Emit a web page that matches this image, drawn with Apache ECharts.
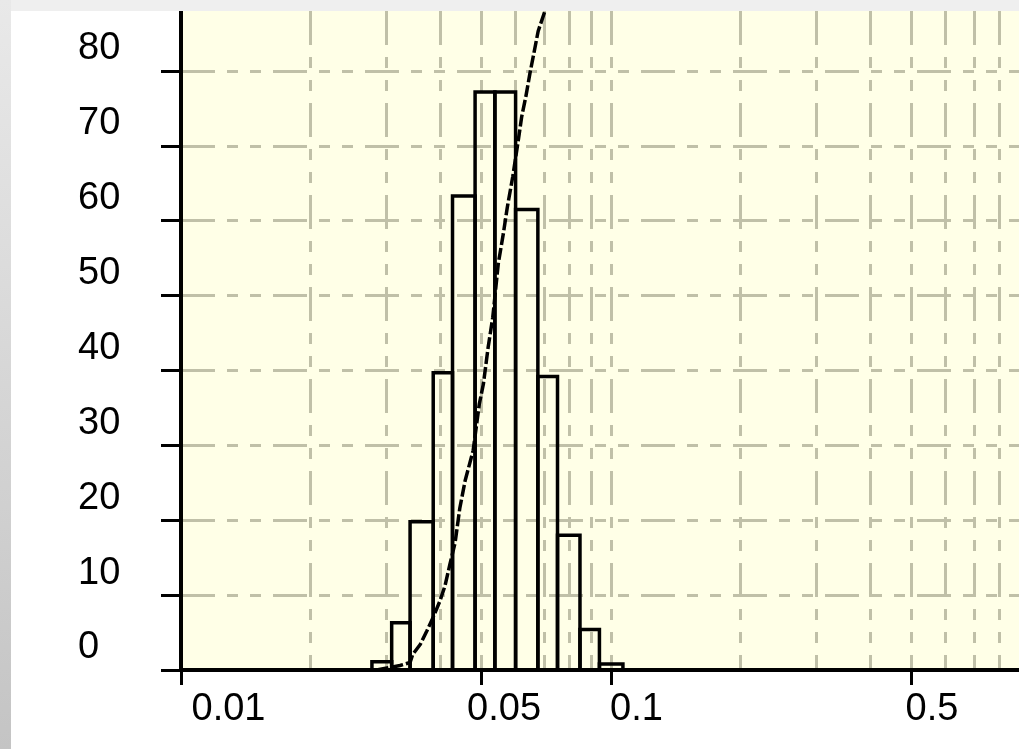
<!DOCTYPE html>
<html>
<head>
<meta charset="utf-8">
<script src="https://cdn.jsdelivr.net/npm/echarts@6/dist/echarts.min.js"></script>
<style>
  html, body { margin: 0; padding: 0; width: 1019px; height: 749px; overflow: hidden; background: #efefef; }
  .side { position: absolute; left: 0; top: 0; width: 11px; height: 749px; background: linear-gradient(#e9e9e9, #c4c4c4); }
  .panel { position: absolute; left: 11px; top: 11px; width: 1008px; height: 738px; background: #fff; }
  #chart { width: 100%; height: 100%; }
</style>
</head>
<body>
<div class="side"></div>
<div class="panel"><div id="chart"></div></div>
<script>
  // histogram bins (log-spaced edges) and counts
  var binLeft  = [0.0278, 0.0309, 0.0341, 0.0386, 0.0428, 0.0483, 0.0537, 0.0600, 0.0676, 0.0751, 0.0847, 0.0940];
  var binRight = [0.0309, 0.0341, 0.0386, 0.0428, 0.0483, 0.0537, 0.0600, 0.0676, 0.0751, 0.0847, 0.0940, 0.1066];
  var counts   = [1.1, 6.3, 19.8, 39.7, 63.3, 77.2, 77.2, 61.5, 39.2, 18.0, 5.4, 0.8];

  // fitted curve (dashed)
  var curveX = [0.0285, 0.0323, 0.0341, 0.0346, 0.0360, 0.0373, 0.0385, 0.0400, 0.0411, 0.0422,
                0.0434, 0.0445, 0.0458, 0.0478, 0.0494, 0.0505, 0.0518, 0.0531, 0.0547, 0.0562,
                0.0574, 0.0591, 0.0609, 0.0620, 0.0634, 0.0648, 0.0662, 0.0677, 0.0702];
  var curveY = [0.0, 0.6, 1.0, 2.1, 3.4, 5.2, 6.9, 9.2, 11.2, 14.1,
                17.0, 21.6, 25.3, 29.3, 35.5, 38.2, 43.1, 47.1, 54.3, 58.3,
                61.8, 65.9, 70.8, 73.9, 76.6, 79.7, 82.4, 85.3, 88.0];

  // axes
  var xLabels = [0.01, 0.05, 0.1, 0.5];
  var xLabelText = ['0.01', '0.05', '0.1', '0.5'];
  var xGrid = [0.01, 0.02, 0.03, 0.04, 0.05, 0.06, 0.07, 0.08, 0.09, 0.1, 0.2, 0.3, 0.4, 0.5, 0.6, 0.7, 0.8];
  var yTicks = [0, 10, 20, 30, 40, 50, 60, 70, 80];
  var xMin = 0.01, xMax = 0.889, yMin = 0, yMax = 88;

  var gridColor = '#c0c0a8';
  var gridDash = [34, 12, 11, 12, 11, 12];
  var font = 'Liberation Sans, Arial, sans-serif';
  // the old plot places its x labels a little off their ticks
  var xLabelPad = [95, 45, 51, 41];

  var chart = echarts.init(document.getElementById('chart'));

  var bins = counts.map(function (c, i) { return [binLeft[i], binRight[i], c]; });
  var curve = curveX.map(function (x, i) { return [x, curveY[i]]; });

  var xRich = {};
  xLabelPad.forEach(function (p, i) {
    xRich['l' + i] = { padding: [0, 0, 0, p], color: '#000', fontSize: 38, fontFamily: font };
  });

  function nearestLabel(v) {
    var best = 0;
    xLabels.forEach(function (x, i) {
      if (Math.abs(Math.log(x / v)) < Math.abs(Math.log(xLabels[best] / v))) best = i;
    });
    return best;
  }

  chart.setOption({
    animation: false,
    grid: {
      left: 170, top: 0, right: 0, bottom: 79,
      show: true, backgroundColor: '#ffffe7', borderWidth: 0
    },
    xAxis: [
      {
        type: 'log', logBase: 10, min: xMin, max: xMax,
        axisLine: { onZero: false, lineStyle: { color: '#000', width: 4 } },
        axisTick: { customValues: xLabels, length: 15, lineStyle: { color: '#000', width: 3 } },
        axisLabel: {
          customValues: xLabels, margin: 21, align: 'center',
          showMinLabel: true, showMaxLabel: true,
          color: '#000', fontSize: 38, fontFamily: font,
          rich: xRich,
          formatter: function (v) {
            var i = nearestLabel(v);
            return '{l' + i + '|' + xLabelText[i] + '}';
          }
        },
        splitLine: { show: false }
      },
      {
        type: 'log', logBase: 10, min: xMin, max: xMax,
        axisLine: { show: false },
        axisTick: { show: false, customValues: xGrid },
        axisLabel: { show: false },
        splitLine: { show: true, lineStyle: { color: gridColor, width: 3, type: gridDash } }
      }
    ],
    yAxis: {
      type: 'value', min: yMin, max: yMax,
      axisLine: { show: true, lineStyle: { color: '#000', width: 4 } },
      axisTick: { show: true, customValues: yTicks, length: 20, lineStyle: { color: '#000', width: 3 } },
      axisLabel: {
        customValues: yTicks, align: 'left', verticalAlign: 'bottom', margin: 103,
        lineHeight: 44,
        showMinLabel: true, showMaxLabel: true,
        color: '#000', fontSize: 38, fontFamily: font
      },
      splitLine: { show: true, lineStyle: { color: gridColor, width: 3, type: gridDash } }
    },
    series: [
      {
        type: 'custom',
        xAxisIndex: 0,
        data: bins,
        encode: { x: [0, 1], y: 2 },
        renderItem: function (params, api) {
          var p0 = api.coord([api.value(0), api.value(2)]);
          var p1 = api.coord([api.value(1), 0]);
          return {
            type: 'rect',
            shape: { x: p0[0], y: p0[1], width: p1[0] - p0[0], height: p1[1] - p0[1] },
            style: { fill: 'none', stroke: '#000', lineWidth: 3.5 }
          };
        }
      },
      {
        type: 'line',
        xAxisIndex: 0,
        data: curve,
        symbol: 'none',
        clip: true,
        lineStyle: { color: '#000', width: 3.5, type: [12, 3] }
      }
    ]
  });
</script>
</body>
</html>
